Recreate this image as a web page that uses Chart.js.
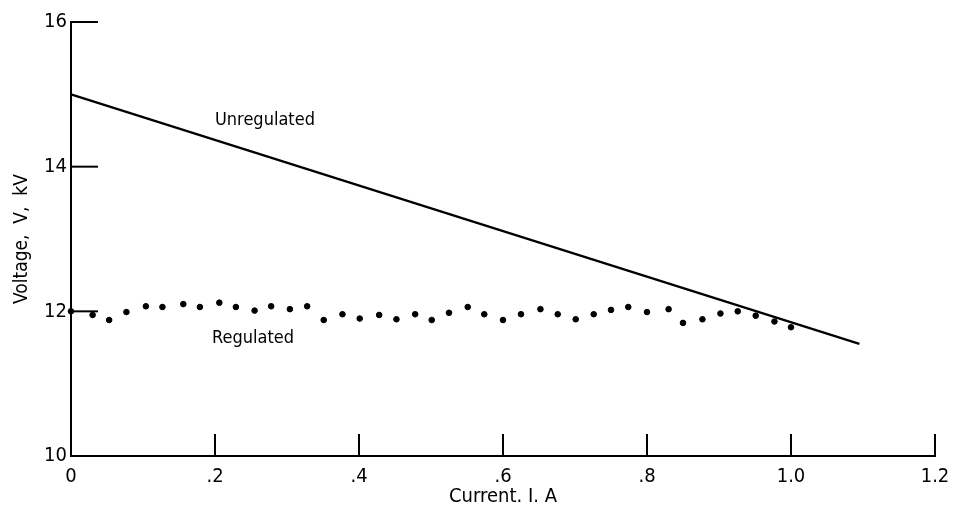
<!DOCTYPE html>
<html>
<head>
<meta charset="utf-8">
<script src="https://cdn.jsdelivr.net/npm/chart.js@4/dist/chart.umd.min.js"></script>
<style>
  html, body { margin: 0; padding: 0; background: #fff; }
  #wrap { width: 954px; height: 509px; }
</style>
</head>
<body>
<div id="wrap"><canvas id="vchart"></canvas></div>
<script>
// values
var regCurrent = [0, 0.030, 0.053, 0.077, 0.104, 0.127, 0.156, 0.179, 0.206, 0.229, 0.255, 0.278, 0.304, 0.328,
  0.351, 0.377, 0.401, 0.428, 0.452, 0.478, 0.501, 0.525, 0.551, 0.574, 0.600, 0.625, 0.652, 0.676, 0.701,
  0.726, 0.750, 0.774, 0.800, 0.830, 0.850, 0.877, 0.902, 0.926, 0.951, 0.977, 1.000];
var regVoltage = [12.00, 11.95, 11.88, 11.99, 12.07, 12.06, 12.10, 12.06, 12.12, 12.06, 12.01, 12.07, 12.03, 12.07,
  11.88, 11.96, 11.90, 11.95, 11.89, 11.96, 11.88, 11.98, 12.06, 11.96, 11.88, 11.96, 12.03, 11.96, 11.89,
  11.96, 12.02, 12.06, 11.99, 12.03, 11.84, 11.89, 11.97, 12.00, 11.94, 11.86, 11.78];
var unregCurrent = [0, 1.095];
var unregVoltage = [15.0, 11.55];
var xTicks = [0, 0.2, 0.4, 0.6, 0.8, 1.0, 1.2];
var xTickLabels = ['0', '.2', '.4', '.6', '.8', '1.0', '1.2'];
var yTicks = [10, 12, 14, 16];
var curveNames = ['Unregulated', 'Regulated'];
var nameAt = [[0.2, 14.64], [0.196, 11.62]];

var fam = '"DejaVu Sans Condensed", "Liberation Sans Narrow", "Arial Narrow", sans-serif';

function pts(xs, ys) {
  return xs.map(function (x, i) { return { x: x, y: ys[i] }; });
}

// short inward tick marks plus the curve names
var marks = {
  id: 'marks',
  afterDraw: function (chart) {
    var ctx = chart.ctx, xs = chart.scales.x, ys = chart.scales.y;
    ctx.save();
    ctx.strokeStyle = '#000';
    ctx.lineWidth = 2;
    yTicks.forEach(function (v) {
      if (v === 10) return;
      var py = ys.getPixelForValue(v);
      ctx.beginPath();
      ctx.moveTo(xs.left, py);
      ctx.lineTo(xs.left + 27, py);
      ctx.stroke();
    });
    xTicks.forEach(function (v) {
      if (v === 0) return;
      var px = xs.getPixelForValue(v);
      ctx.beginPath();
      ctx.moveTo(px, ys.bottom);
      ctx.lineTo(px, ys.bottom - 22);
      ctx.stroke();
    });
    ctx.fillStyle = '#000';
    ctx.font = '18px ' + fam;
    ctx.textBaseline = 'middle';
    curveNames.forEach(function (t, i) {
      ctx.fillText(t, xs.getPixelForValue(nameAt[i][0]), ys.getPixelForValue(nameAt[i][1]));
    });
    ctx.restore();
  }
};

var canvas = document.getElementById('vchart');
var myChart = new Chart(canvas, {
  type: 'scatter',
  data: {
    datasets: [{
      label: 'Unregulated',
      data: pts(unregCurrent, unregVoltage),
      showLine: true,
      borderColor: '#000',
      borderWidth: 2.2,
      pointRadius: 0,
      clip: false
    }, {
      label: 'Regulated',
      data: pts(regCurrent, regVoltage),
      showLine: false,
      backgroundColor: '#000',
      borderColor: '#000',
      pointRadius: 2.8,
      clip: false
    }]
  },
  options: {
    responsive: true,
    maintainAspectRatio: false,
    animation: false,
    layout: { padding: { top: 22, right: 19, left: 0, bottom: 0 } },
    plugins: {
      legend: { display: false },
      tooltip: { enabled: false }
    },
    scales: {
      x: {
        type: 'linear',
        min: 0,
        max: 1.2,
        afterBuildTicks: function (scale) {
          scale.ticks = xTicks.map(function (v) { return { value: v }; });
        },
        afterFit: function (scale) {
          scale.height = 53;
          scale.paddingLeft = 0;
          scale.paddingRight = 0;
        },
        ticks: {
          color: '#000',
          padding: 9,
          maxRotation: 0,
          font: { family: fam, size: 20 },
          callback: function (v) {
            var i = xTicks.findIndex(function (t) { return Math.abs(t - v) < 1e-6; });
            return i >= 0 ? xTickLabels[i] : '';
          }
        },
        grid: { display: false, drawTicks: false },
        border: { display: true, color: '#000', width: 2 },
        title: {
          display: true,
          text: 'Current. I. A',
          color: '#000',
          font: { family: fam, size: 20 },
          padding: { top: 0, bottom: 0 }
        }
      },
      y: {
        type: 'linear',
        min: 10,
        max: 16,
        afterBuildTicks: function (scale) {
          scale.ticks = yTicks.map(function (v) { return { value: v }; });
        },
        afterFit: function (scale) {
          scale.width = 71;
          scale.paddingTop = 0;
          scale.paddingBottom = 0;
        },
        ticks: {
          color: '#000',
          padding: 4,
          font: { family: fam, size: 20 }
        },
        grid: { display: false, drawTicks: false },
        border: { display: true, color: '#000', width: 2 },
        title: {
          display: true,
          text: 'Voltage,  V,  kV',
          color: '#000',
          font: { family: fam, size: 19 },
          padding: { top: 11, bottom: 0 }
        }
      }
    }
  },
  plugins: [marks]
});
</script>
</body>
</html>
